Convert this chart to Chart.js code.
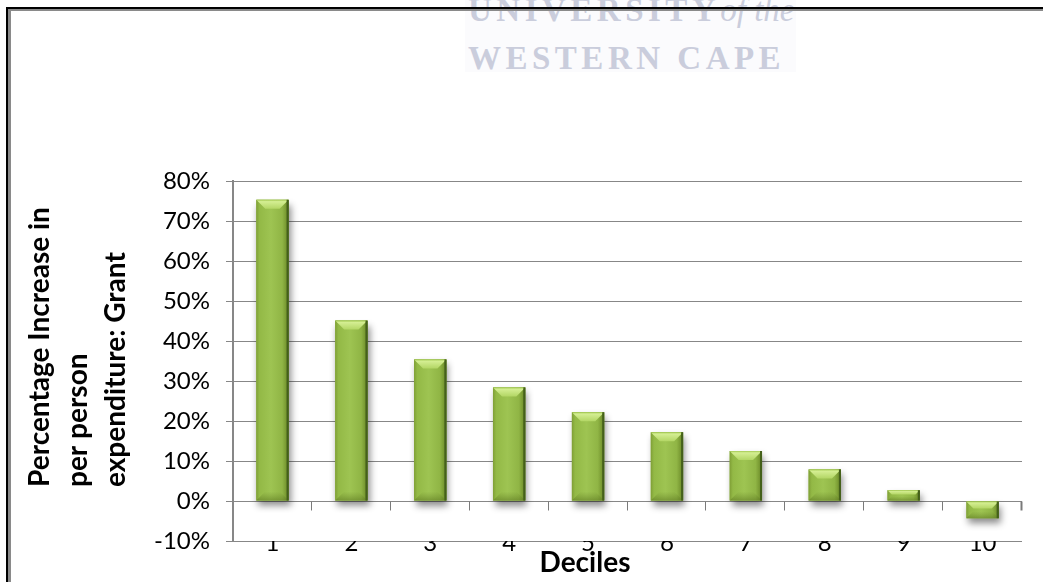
<!DOCTYPE html>
<html>
<head>
<meta charset="utf-8">
<title>Percentage increase in per person expenditure by decile</title>
<script src="https://cdn.jsdelivr.net/npm/chart.js@4/dist/chart.umd.min.js"></script>
<style>
  html, body { margin: 0; padding: 0; background: #fff; overflow: hidden; }
  #wrap { position: relative; width: 1043px; height: 582px; overflow: hidden; background: #fff; }
  #crest { position: absolute; left: 465px; top: 0; width: 331px; height: 72px; background: #fbfbfd; }
  .crest-line { position: absolute; left: 468px; white-space: nowrap; font-family: "Liberation Serif", "DejaVu Serif", serif;
                font-size: 33px; line-height: 33px; font-weight: bold; color: #cacddc; letter-spacing: 4.5px; }
  .crest-line i { font-weight: normal; letter-spacing: 0; }
  #chart { position: absolute; left: 0; top: 0; }
  #frame { position: absolute; left: 6px; top: 7px; width: 1100px; height: 700px; box-sizing: border-box;
           border-top: 2px solid #000; border-left: 2px solid #000; }
  #frame div { width: 100%; height: 100%; box-sizing: border-box; border-top: 2px solid #8a8a8a; border-left: 3px solid #8a8a8a; }
</style>
</head>
<body>
<div id="wrap">
  <div id="crest"></div>
  <div class="crest-line" style="top:-6px">UNIVERSITY<i>of the</i></div>
  <div class="crest-line" style="top:42px">WESTERN CAPE</div>
  <canvas id="chart" width="1043" height="582"></canvas>
  <div id="frame"><div></div></div>
</div>
<script>
// Deciles of the household distribution and the grant-driven increase (%) in each
const deciles = ['1', '2', '3', '4', '5', '6', '7', '8', '9', '10'];
const increasePct = [75.3, 45.1, 35.4, 28.4, 22.2, 17.2, 12.5, 7.9, 2.7, -4.3];

// Axis range and captions
const yMin = -10;
const yMax = 80;
const yStep = 10;
const yTitleLines = ['Percentage Increase in', 'per person', 'expenditure: Grant'];
const xTitle = 'Deciles';

const GRID = '#878787';

// Olive bars with a bevelled top, darker right edge and a soft drop shadow
const bevelBars = {
  id: 'bevelBars',
  beforeDatasetsDraw(chart) {
    const ctx = chart.ctx;
    ctx.save();
    ctx.shadowColor = 'rgba(0,0,0,0.45)';
    ctx.shadowBlur = 7;
    ctx.shadowOffsetX = 2;
    ctx.shadowOffsetY = 5;
  },
  afterDatasetsDraw(chart) {
    const ctx = chart.ctx;
    ctx.restore();
    const meta = chart.getDatasetMeta(0);
    ctx.save();
    meta.data.forEach(bar => {
      const { x, y, base, width } = bar.getProps(['x', 'y', 'base', 'width'], true);
      const l = x - width / 2, r = x + width / 2;
      const t = Math.min(y, base), b = Math.max(y, base);
      const h = b - t;
      if (h <= 0) return;

      // body: light centre, darker sides
      const g = ctx.createLinearGradient(l, 0, r, 0);
      g.addColorStop(0.00, '#7f9f36');
      g.addColorStop(0.10, '#93b946');
      g.addColorStop(0.45, '#9ec452');
      g.addColorStop(0.80, '#90b545');
      g.addColorStop(0.92, '#789932');
      g.addColorStop(1.00, '#4a6619');
      ctx.fillStyle = g;
      ctx.fillRect(l, t, width, h);

      const bv = Math.min(9, h * 0.42);

      // bottom bevel, slightly darker
      const bg = ctx.createLinearGradient(0, b - bv, 0, b);
      bg.addColorStop(0, 'rgba(110,140,45,0.0)');
      bg.addColorStop(1, 'rgba(96,124,36,0.6)');
      ctx.fillStyle = bg;
      ctx.beginPath();
      ctx.moveTo(l + bv, b - bv);
      ctx.lineTo(r - bv, b - bv);
      ctx.lineTo(r, b);
      ctx.lineTo(l, b);
      ctx.closePath();
      ctx.fill();

      // top bevel, bright
      const tg = ctx.createLinearGradient(0, t, 0, t + bv);
      tg.addColorStop(0.00, '#a2c850');
      tg.addColorStop(0.20, '#d4ee92');
      tg.addColorStop(1.00, '#b3d665');
      ctx.fillStyle = tg;
      ctx.beginPath();
      ctx.moveTo(l, t);
      ctx.lineTo(r, t);
      ctx.lineTo(r - bv, t + bv);
      ctx.lineTo(l + bv, t + bv);
      ctx.closePath();
      ctx.fill();

      // dark right edge
      ctx.fillStyle = '#44601a';
      ctx.fillRect(r - 2, t, 2, h);
    });
    ctx.restore();
  }
};

// Tick marks on the zero line and the two axis captions
const axisExtras = {
  id: 'axisExtras',
  afterDraw(chart, args, opts) {
    const { ctx, scales: { x, y } } = chart;
    const zeroY = Math.round(y.getPixelForValue(0)) + 0.5;
    const step = x.width / deciles.length;
    ctx.save();
    ctx.strokeStyle = '#7a7a7a';
    for (let i = 1; i <= deciles.length; i++) {
      const px = Math.round(x.left + i * step) - 0.5;
      ctx.lineWidth = i === deciles.length ? 2 : 1;
      ctx.beginPath();
      ctx.moveTo(px, zeroY);
      ctx.lineTo(px, zeroY + opts.tickLength);
      ctx.stroke();
    }

    ctx.fillStyle = '#000';
    ctx.font = opts.font;
    ctx.textBaseline = 'middle';

    // x caption
    ctx.textAlign = 'center';
    ctx.fillText(xTitle, opts.xTitleCenter, opts.xTitleMiddle);

    // y caption, rotated, lines start-aligned at the bottom
    ctx.translate(opts.yTitleFirst, opts.yTitleStart);
    ctx.rotate(-Math.PI / 2);
    ctx.textAlign = 'left';
    yTitleLines.forEach((line, i) => ctx.fillText(line, 0, i * opts.yTitleGap));
    ctx.restore();
  }
};

Chart.defaults.font.family = 'Lato, "Open Sans", sans-serif';

new Chart(document.getElementById('chart'), {
  type: 'bar',
  data: {
    labels: deciles,
    datasets: [{
      data: increasePct,
      backgroundColor: '#96bb48',
      borderWidth: 0,
      barPercentage: 0.41,
      categoryPercentage: 1
    }]
  },
  options: {
    responsive: false,
    animation: false,
    layout: { padding: { top: 181, right: 21, bottom: 0, left: 0 } },
    plugins: {
      legend: { display: false },
      tooltip: { enabled: false },
      axisExtras: {
        tickLength: 9,
        font: 'bold 28px Lato, "Open Sans", sans-serif',
        xTitleCenter: 585,
        xTitleMiddle: 563,
        yTitleFirst: 40,
        yTitleStart: 487,
        yTitleGap: 38
      }
    },
    scales: {
      x: {
        offset: true,
        grid: { display: false },
        border: { display: false },
        ticks: { color: '#000', font: { size: 24 }, padding: -20, maxRotation: 0 },
        afterFit(scale) { scale.height = 41; }
      },
      y: {
        min: yMin,
        max: yMax,
        ticks: {
          stepSize: yStep,
          color: '#000',
          font: { size: 24 },
          padding: 16,
          callback: v => v + '%'
        },
        grid: {
          color: GRID,
          lineWidth: 1,
          tickLength: 7,
          drawTicks: true
        },
        border: { color: GRID, width: 2 },
        afterFit(scale) { scale.width = 233; }
      }
    }
  },
  plugins: [bevelBars, axisExtras]
});
</script>
</body>
</html>
